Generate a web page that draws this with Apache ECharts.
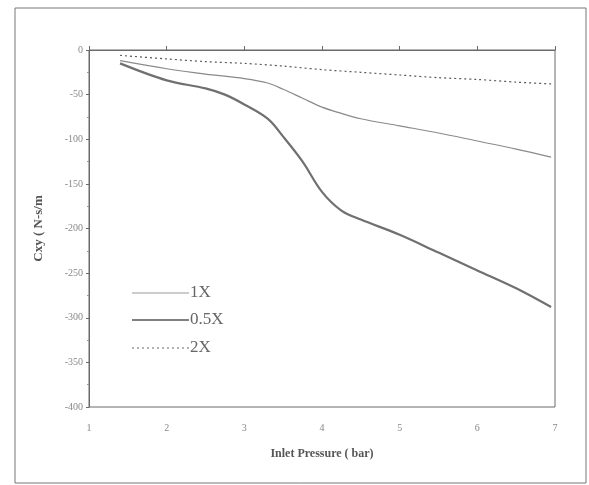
<!DOCTYPE html>
<html>
<head>
<meta charset="utf-8">
<script src="https://cdn.jsdelivr.net/npm/echarts@6/dist/echarts.min.js"></script>
<style>html,body{margin:0;padding:0;background:#fff;}#c{width:589px;height:485px;}</style>
</head>
<body>
<div id="c"></div>
<script>
var seriesNames = ['1X', '0.5X', '2X'];
var data1X = [[1.4,-12],[2,-21],[2.5,-27],[3,-32],[3.3,-37],[3.5,-44],[3.75,-54],[4,-64],[4.25,-71],[4.5,-77],[5,-85],[5.5,-93],[6,-102],[6.5,-111],[6.95,-120]];
var data05X = [[1.4,-15],[2,-34],[2.5,-43],[2.75,-50],[3,-61],[3.3,-77],[3.5,-97],[3.75,-125],[4,-159],[4.25,-180],[4.5,-190],[5,-207],[5.5,-227],[6,-247],[6.5,-267],[6.95,-288]];
var data2X = [[1.4,-6],[2,-10],[2.5,-13],[3,-15],[3.5,-18],[4,-22],[4.5,-25],[5,-28],[5.5,-31],[6,-33],[6.5,-36],[6.95,-38]];
var xTicks = {min: 1, max: 7, interval: 1};
var yTicks = {min: -400, max: 0, interval: 50};

var chart = echarts.init(document.getElementById('c'));
var axisColor = '#6a6a6a';
var serif = '"Liberation Serif", "DejaVu Serif", serif';
var legendY = [293, 320, 348];
var legendStyles = [
  {stroke: '#9a9a9a', lineWidth: 1.2},
  {stroke: '#808080', lineWidth: 2.2},
  {stroke: '#666', lineWidth: 1.2, lineDash: [2, 3]}
];
var graphics = [{
  type: 'rect', shape: {x: 15, y: 8, width: 571, height: 475},
  style: {fill: 'none', stroke: '#777', lineWidth: 1}, silent: true
}];
seriesNames.forEach(function (n, i) {
  graphics.push({type: 'line', shape: {x1: 132, y1: legendY[i], x2: 189, y2: legendY[i]}, style: legendStyles[i]});
  graphics.push({type: 'text', x: 190, y: legendY[i], style: {text: n, font: '17px ' + serif, fill: '#666', textVerticalAlign: 'middle'}});
});

chart.setOption({
  animation: false,
  backgroundColor: '#fff',
  grid: {left: 89, top: 50, right: 34, bottom: 78, show: true, borderColor: axisColor, borderWidth: 1},
  xAxis: {
    type: 'value', min: xTicks.min, max: xTicks.max, interval: xTicks.interval,
    name: 'Inlet Pressure ( bar)', nameLocation: 'middle', nameGap: 41,
    nameTextStyle: {fontFamily: serif, fontSize: 12, fontWeight: 'bold', color: '#555'},
    axisLine: {lineStyle: {color: axisColor}},
    axisTick: {inside: true, length: 4, lineStyle: {color: axisColor}},
    axisLabel: {fontFamily: serif, fontSize: 10, color: '#888', margin: 16},
    splitLine: {show: false}
  },
  yAxis: {
    type: 'value', min: yTicks.min, max: yTicks.max, interval: yTicks.interval,
    name: 'Cxy ( N-s/m', nameLocation: 'middle', nameGap: 44, nameRotate: 90,
    nameTextStyle: {fontFamily: serif, fontSize: 13, fontWeight: 'bold', color: '#555'},
    axisLine: {onZero: false, lineStyle: {color: axisColor}},
    axisTick: {length: 3, lineStyle: {color: axisColor}},
    minorTick: {show: true, splitNumber: 2, length: 2, lineStyle: {color: '#999'}},
    axisLabel: {fontFamily: serif, fontSize: 10, color: '#888', margin: 6},
    splitLine: {show: false}
  },
  series: [
    {name: seriesNames[0], type: 'line', data: data1X, smooth: 0.35, showSymbol: false, lineStyle: {color: '#8a8a8a', width: 1.2}},
    {name: seriesNames[1], type: 'line', data: data05X, smooth: 0.35, showSymbol: false, lineStyle: {color: '#707070', width: 2.2}},
    {name: seriesNames[2], type: 'line', data: data2X, smooth: 0.3, showSymbol: false, lineStyle: {color: '#5a5a5a', width: 1.2, type: [2, 3]}}
  ],
  graphic: graphics
});
</script>
</body>
</html>
